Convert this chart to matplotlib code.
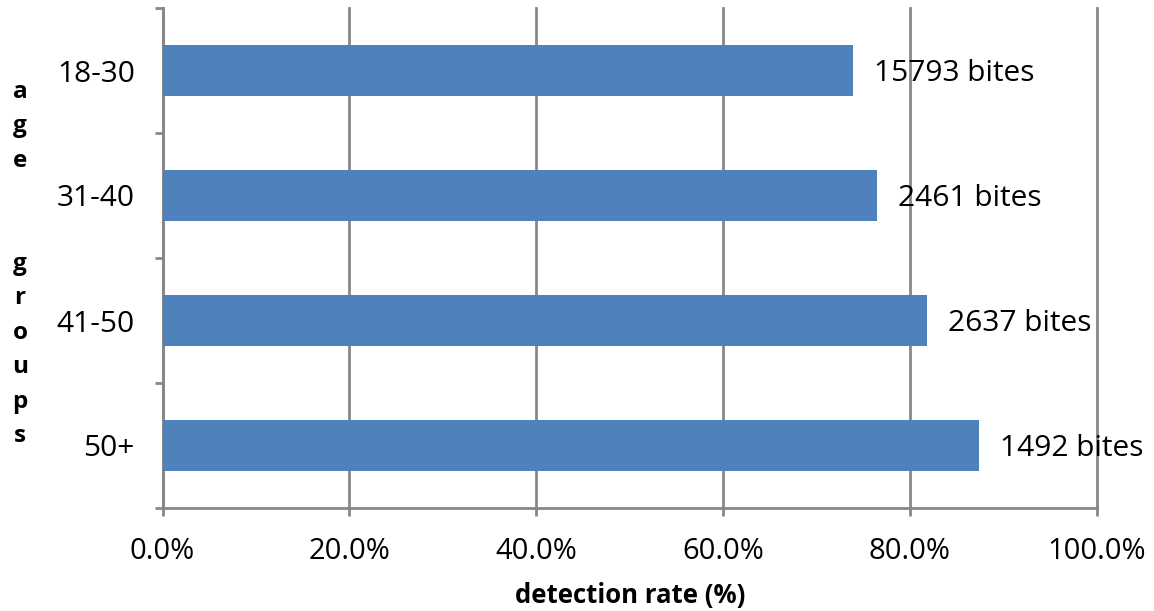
import matplotlib
matplotlib.use("Agg")
import matplotlib.pyplot as plt
from matplotlib.ticker import FuncFormatter, MultipleLocator, FixedLocator

categories = ["18-30", "31-40", "41-50", "50+"]
rates = [73.9, 76.5, 81.9, 87.4]
bite_labels = ["15793 bites", "2461 bites", "2637 bites", "1492 bites"]
x_label = "detection rate (%)"
y_label = "age  groups"

plt.rcParams['font.family'] = ['Open Sans', 'DejaVu Sans']

fig = plt.figure(figsize=(11.54, 6.11), dpi=100)
ax = fig.add_axes([162.5/1154, 1-508/611, (1096.5-162.5)/1154, 500/611])

grid_col = "#878787"
bar_col = "#4F81BD"

ypos = list(range(len(categories)))
ax.barh(ypos, rates, height=0.41, color=bar_col, zorder=3)
ax.set_ylim(len(categories)-0.5, -0.5)
ax.set_xlim(0, 100)

for y, r, lab in zip(ypos, rates, bite_labels):
    ax.annotate(lab, xy=(r, y), xytext=(21*0.72, -2.5), textcoords="offset points",
                ha="left", va="center", fontsize=21.5, color="black", zorder=4)

ax.xaxis.set_major_locator(MultipleLocator(20))
ax.xaxis.set_major_formatter(FuncFormatter(lambda v, p: f"{v:.1f}%"))
ax.grid(axis="x", color=grid_col, linewidth=2.0, zorder=1)
for gl in ax.get_xgridlines():
    gl.set_clip_on(False)
ax.set_axisbelow(True)

ax.set_yticks(ypos)
ax.set_yticklabels(categories)
ax.yaxis.set_minor_locator(FixedLocator([-0.5, 0.5, 1.5, 2.5, 3.5]))

for s in ["top", "right"]:
    ax.spines[s].set_visible(False)
for s in ["left", "bottom"]:
    ax.spines[s].set_color(grid_col)
    ax.spines[s].set_linewidth(2.0)

ax.tick_params(axis="x", which="major", direction="out", length=6, width=2.0,
               color=grid_col, labelsize=21, pad=15)
ax.tick_params(axis="y", which="major", length=0, labelsize=21.5, pad=20)
ax.tick_params(axis="y", which="minor", direction="out", length=6, width=2.0,
               color=grid_col)

fig.text((515+745)/2/1154, 1-596/611, x_label, ha="center", va="center",
         fontsize=18.5, fontweight="bold")

fig.text(20/1154, 1-264/611, "\n".join(list(y_label)), ha="center", va="center",
         fontsize=17.5, fontweight="bold", linespacing=1.58)

fig.savefig("out.png", dpi=100)
